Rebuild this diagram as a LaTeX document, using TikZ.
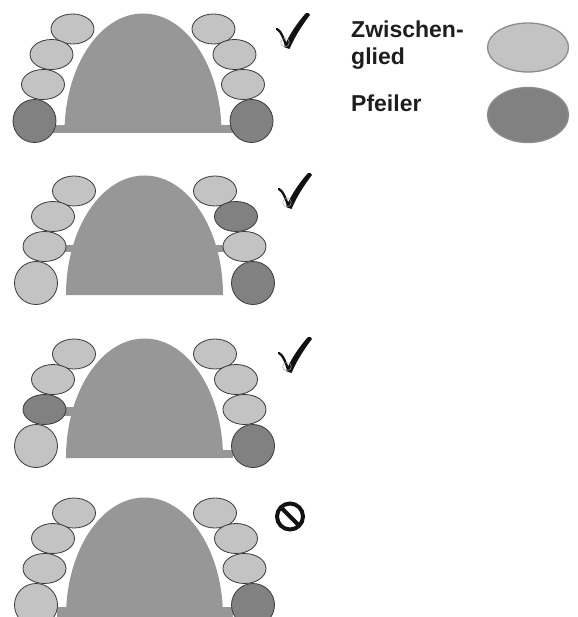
\documentclass[tikz,border=0pt]{standalone}
\usepackage{fontspec}
\setmainfont{Liberation Sans}
\definecolor{palategray}{HTML}{979797}
\definecolor{ponticfill}{HTML}{C3C3C3}
\definecolor{abutfill}{HTML}{818181}
\definecolor{rimgray}{HTML}{3A3A3A}
\definecolor{legendrim}{HTML}{8C8C8C}
\definecolor{inkblack}{HTML}{111111}
\definecolor{labeltext}{HTML}{1E1E1E}

\tikzset{
  palate/.style={fill=palategray},
  pontic/.style={draw=rimgray, line width=0.8pt, fill=ponticfill},
  abut/.style={draw=rimgray, line width=0.8pt, fill=abutfill},
  legendpontic/.style={draw=legendrim, line width=1.3pt, fill=ponticfill},
  legendabut/.style={draw=legendrim, line width=1.3pt, fill=abutfill},
  legendtext/.style={font=\bfseries\fontsize{23}{27}\selectfont, text=labeltext, inner sep=0pt, anchor=base west},
  okmark/.pic={
    \fill[inkblack] (9,34) .. controls (15,20) and (23,9) .. (31,0)
      .. controls (32.5,-0.8) and (35,0.5) .. (35,2)
      .. controls (28,11) and (20,23) .. (14.5,36) -- cycle;
    \draw[inkblack, line width=2.3pt, line cap=round]
      (2,16) .. controls (6,18) and (9,26) .. (11.5,34);
    \draw[gray!70, line width=0.5pt] (10,29.5) circle[radius=4.3];
  }
}

% palate arch, drawn from the middle of its base line
\newcommand\palatearch{%
  \fill[palate] (-78.5,0) arc[start angle=180, end angle=360,
    x radius=78.5, y radius=119.5] -- cycle;}

% eight teeth: styles of left 1..4 and right 1..4 (front to back)
\newcommand\teethrow[8]{%
  \draw[#1] (-70.5,-104) ellipse[x radius=21.5, y radius=15];
  \draw[#2] (-91.5,-78.5) ellipse[x radius=21.5, y radius=15];
  \draw[#3] (-100,-48.5) ellipse[x radius=21.5, y radius=15];
  \draw[#4] (-108.5,-12) circle[radius=21.5];
  \draw[#5] (70.5,-104) ellipse[x radius=21.5, y radius=15];
  \draw[#6] (91.5,-78.5) ellipse[x radius=21.5, y radius=15];
  \draw[#7] (100,-48.5) ellipse[x radius=21.5, y radius=15];
  \draw[#8] (108.5,-12) circle[radius=21.5];}

\begin{document}
\begin{tikzpicture}[x=1pt, y=-1pt]
\clip (0,0) rectangle (577,617);
\fill[white] (0,0) rectangle (577,617);

% first jaw: bridge between the two back teeth
\begin{scope}[shift={(143,133)}]
  \fill[palate] (-90,-8) rectangle (90,0);
  \palatearch
  \teethrow{pontic}{pontic}{pontic}{abut}{pontic}{pontic}{pontic}{abut}
\end{scope}
\pic at (275,13) {okmark};

% second jaw
\begin{scope}[shift={(144.5,295)}]
  \fill[palate] (-88,-50) rectangle (88,-43);
  \palatearch
  \teethrow{pontic}{pontic}{pontic}{pontic}{pontic}{abut}{pontic}{abut}
\end{scope}
\pic at (277,173) {okmark};

% third jaw
\begin{scope}[shift={(144.5,458)}]
  \fill[palate] (-88,-51) rectangle (0,-42);
  \fill[palate] (0,-8) rectangle (88,0);
  \palatearch
  \teethrow{pontic}{pontic}{abut}{pontic}{pontic}{pontic}{pontic}{abut}
\end{scope}
\pic at (277,337) {okmark};

% fourth jaw: only one abutment
\begin{scope}[shift={(144.5,617)}]
  \fill[palate] (-88,-10) rectangle (88,0);
  \palatearch
  \teethrow{pontic}{pontic}{pontic}{pontic}{pontic}{pontic}{pontic}{abut}
\end{scope}
\draw[inkblack, line width=4pt] (290,516.5) circle[radius=13];
\draw[inkblack, line width=4pt] (281,507.5) -- (299,525.5);

% legend
\node[legendtext] (lblpontic) at (351,38) {Zwischen-};
\node[legendtext] (lblpontic2) at (351,65) {glied};
\node[legendtext] (lblabut) at (351,112) {Pfeiler};
\draw[legendpontic] (528,47.5) ellipse[x radius=40.5, y radius=24.5];
\draw[legendabut] (528,115) ellipse[x radius=40.5, y radius=27.5];
\end{tikzpicture}
\end{document}
